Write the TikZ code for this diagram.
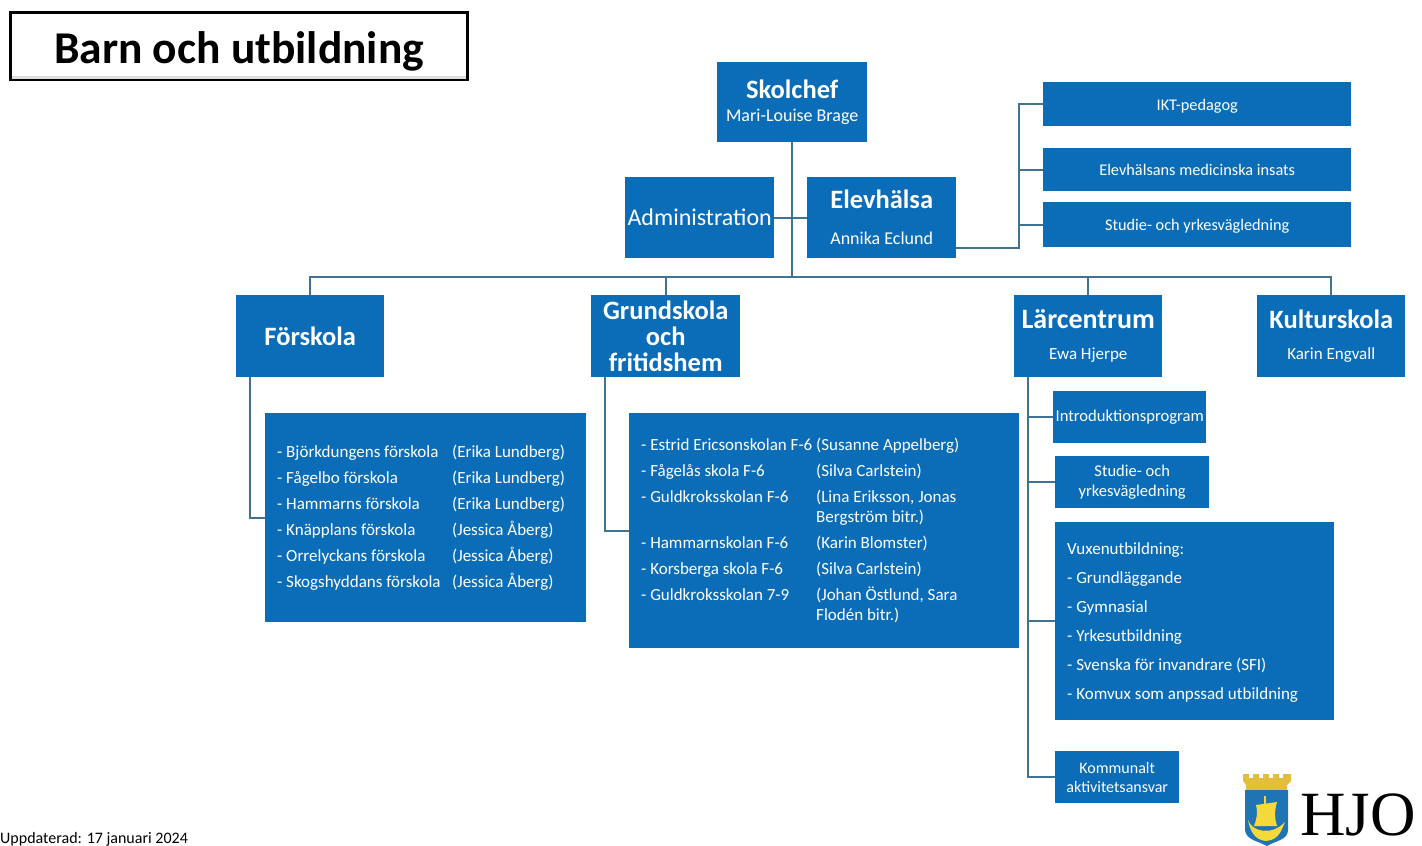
\documentclass[tikz,border=0pt]{standalone}
\usepackage{fontspec}
\setmainfont{Carlito}
\usepackage{array}
\usepackage{tikz}
\usetikzlibrary{positioning,calc}

\definecolor{boxblue}{HTML}{0B6DB7}
\definecolor{linkblue}{HTML}{3F7391}
\definecolor{crowngold}{HTML}{E3BE3A}
\definecolor{shieldblue}{HTML}{1F74B4}
\definecolor{boatgold}{HTML}{F5D83A}

\newcommand{\fs}[1]{\fontsize{#1}{#1}\selectfont}
\newcommand{\fsb}[2]{\fontsize{#1}{#2}\selectfont}

\tikzset{
    orgbox/.style={fill=boxblue, text=white, inner sep=0pt, align=center, anchor=north west},
    sidebox/.style={orgbox, minimum width=308pt, text height=16pt, text depth=4pt, font=\fs{16.3}},
    link/.style={draw=linkblue, line width=1.6pt},
}

\begin{document}
\begin{tikzpicture}[x=1pt,y=-1pt]

    \useasboundingbox (0,0) rectangle (1422,846);

    % title
    \node (title) [draw=black, line width=3pt, minimum width=457pt, minimum height=67pt, anchor=north west, inner sep=0pt, text height=35pt, text depth=0pt] at (9,11) {\fs{45.5}\bfseries Barn och utbildning};
    \draw[gray!25, line width=3pt] ([xshift=3pt,yshift=3.5pt]title.south west) -- ([xshift=-3pt,yshift=3.5pt]title.south east);

    % top level
    \node (skolchef) [orgbox, minimum width=150pt, minimum height=80pt, font=\fsb{18}{23}] at (717,62) {{\fs{26.5}\bfseries Skolchef}\\Mari-Louise Brage};
    \node (admin) [orgbox, minimum width=149pt, minimum height=81pt] at (625,177) {\fs{24}Administration};
    \node (elev) [orgbox, minimum width=149pt, minimum height=81pt, font=\fsb{18}{36}] at (807,177) {{\fs{26.5}\bfseries Elevhälsa}\\Annika Eclund};

    % elevhalsa side
    \node (ikt) [sidebox, minimum height=44pt] at (1043,82) {IKT-pedagog};
    \node (medic) [sidebox, minimum height=43pt] at (1043,148) {Elevhälsans medicinska insats};
    \node (syv) [sidebox, minimum height=45pt] at (1043,202) {Studie- och yrkesvägledning};

    % schools
    \node (forskola) [orgbox, minimum width=148pt, minimum height=82pt] at (236,295) {\fs{26.5}\bfseries Förskola};
    \node (grund) [orgbox, minimum width=149pt, minimum height=82pt, font=\fsb{26.5}{26}\bfseries] at (591,295) {Grundskola\\och\\fritidshem};
    \node (larc) [orgbox, minimum width=148pt, minimum height=82pt, font=\fsb{17}{31}] at (1014,295) {{\fs{28}\bfseries Lärcentrum}\\Ewa Hjerpe};
    \node (kultur) [orgbox, minimum width=148pt, minimum height=82pt, font=\fsb{17}{31}] at (1257,295) {{\fs{26.5}\bfseries Kulturskola}\\Karin Engvall};

    % lists
    \node (forlist) [orgbox, minimum width=321pt, minimum height=209pt, align=left] at (265,413) {\fsb{17}{26}%
        \begin{tabular}{@{}w{l}{175pt}@{}w{l}{122pt}@{}}
        - Björkdungens förskola & (Erika Lundberg)\\
        - Fågelbo förskola & (Erika Lundberg)\\
        - Hammarns förskola & (Erika Lundberg)\\
        - Knäpplans förskola & (Jessica Åberg)\\
        - Orrelyckans förskola & (Jessica Åberg)\\
        - Skogshyddans förskola & (Jessica Åberg)
        \end{tabular}};
    \node (grundlist) [orgbox, minimum width=390pt, minimum height=235pt, align=left] at (629,413) {\fsb{17}{26}%
        \begin{tabular}{@{}w{l}{175pt}@{}w{l}{191pt}@{}}
        - Estrid Ericsonskolan F-6 & (Susanne Appelberg)\\
        - Fågelås skola F-6 & (Silva Carlstein)\\
        - Guldkroksskolan F-6 & (Lina Eriksson, Jonas\\[-6pt]
         & Bergström bitr.)\\
        - Hammarnskolan F-6 & (Karin Blomster)\\
        - Korsberga skola F-6 & (Silva Carlstein)\\
        - Guldkroksskolan 7-9 & (Johan Östlund, Sara\\[-6pt]
         & Flodén bitr.)
        \end{tabular}};

    % larcentrum side
    \node (intro) [orgbox, minimum width=153pt, minimum height=52pt] at (1053,391) {\fs{16.6}Introduktionsprogram};
    \node (syv2) [orgbox, minimum width=154pt, minimum height=52pt, font=\fsb{16.5}{19.5}] at (1055,456) {Studie- och\\yrkesvägledning};
    \node (vux) [orgbox, minimum width=279pt, minimum height=198pt, align=left] at (1055,522) {\fsb{17}{29}%
        \begin{tabular}{@{}w{l}{255pt}@{}}
        Vuxenutbildning:\\
        - Grundläggande\\
        - Gymnasial\\
        - Yrkesutbildning\\
        - Svenska för invandrare (SFI)\\
        - Komvux som anpssad utbildning
        \end{tabular}};
    \node (komm) [orgbox, minimum width=124pt, minimum height=52pt, font=\fsb{16}{19}] at (1055,751) {Kommunalt\\aktivitetsansvar};

    % connectors
    \coordinate (TRUNK) at (skolchef.south |- 0,277);
    \draw[link] (skolchef.south) -- (TRUNK);
    \draw[link] (admin.east) -- (elev.west);
    \draw[link] (forskola.north) |- (TRUNK);
    \draw[link] (kultur.north) |- (TRUNK);
    \draw[link] (grund.north) -- (grund.north |- TRUNK);
    \draw[link] (larc.north) -- (larc.north |- TRUNK);

    \coordinate (ELEVOUT) at (elev.east |- 0,248);
    \coordinate (ELEVV) at (1019,248);
    \draw[link] (ELEVOUT) -- (ELEVV) |- (ikt.west);
    \draw[link] (ELEVV |- medic.west) -- (medic.west);
    \draw[link] (ELEVV |- syv.west) -- (syv.west);

    \coordinate (FORV) at ([xshift=14pt]forskola.south west);
    \coordinate (GRUNDV) at ([xshift=14pt]grund.south west);
    \coordinate (LARCV) at ([xshift=14pt]larc.south west);
    \draw[link] (FORV) |- (forlist.west |- 0,518);
    \draw[link] (GRUNDV) |- (grundlist.west |- 0,531);
    \draw[link] (LARCV) |- (komm.west);
    \draw[link] (LARCV |- intro.west) -- (intro.west);
    \draw[link] (LARCV |- syv2.west) -- (syv2.west);
    \draw[link] (LARCV |- vux.west) -- (vux.west);

    % logo
    \fill[crowngold] (1243,774) -- (1249,774) -- (1249,778) -- (1253,778) -- (1253,774) -- (1259,774) -- (1259,778) -- (1263,778) -- (1263,774) -- (1269,774) -- (1269,778) -- (1273,778) -- (1273,774) -- (1279,774) -- (1279,778) -- (1283,778) -- (1283,774) -- (1291,774) -- (1291,781) -- (1287,785) -- (1287,790) -- (1246,790) -- (1246,785) -- (1243,781) -- cycle;
    \fill[shieldblue] (1245,790) -- (1288,790) -- (1288,830) .. controls (1288,840) and (1275,841) .. (1267,846) .. controls (1258,841) and (1246,840) .. (1245,830) -- cycle;
    \fill[boatgold] (1256,805) -- (1277,802) .. controls (1274,812) and (1275,820) .. (1277,826) -- (1254,826) .. controls (1257,818) and (1258,812) .. (1256,805) -- cycle;
    \draw[boatgold, line width=1.5pt] (1265,796) -- (1265,805);
    \fill[boatgold] (1248,820) .. controls (1252,832) and (1272,836) .. (1285,822) .. controls (1282,828) and (1280,840) .. (1266,841) .. controls (1254,840) and (1250,830) .. (1248,820) -- cycle;
    \node (hjo) [inner sep=0pt, anchor=base west] at (1300,835) {\fontspec{Liberation Serif}\fs{63}HJO};

    % footer
    \node (updated) [inner sep=0pt, anchor=base west] at (0,843) {\fs{16}Uppdaterad: 17 januari 2024};

\end{tikzpicture}
\end{document}
